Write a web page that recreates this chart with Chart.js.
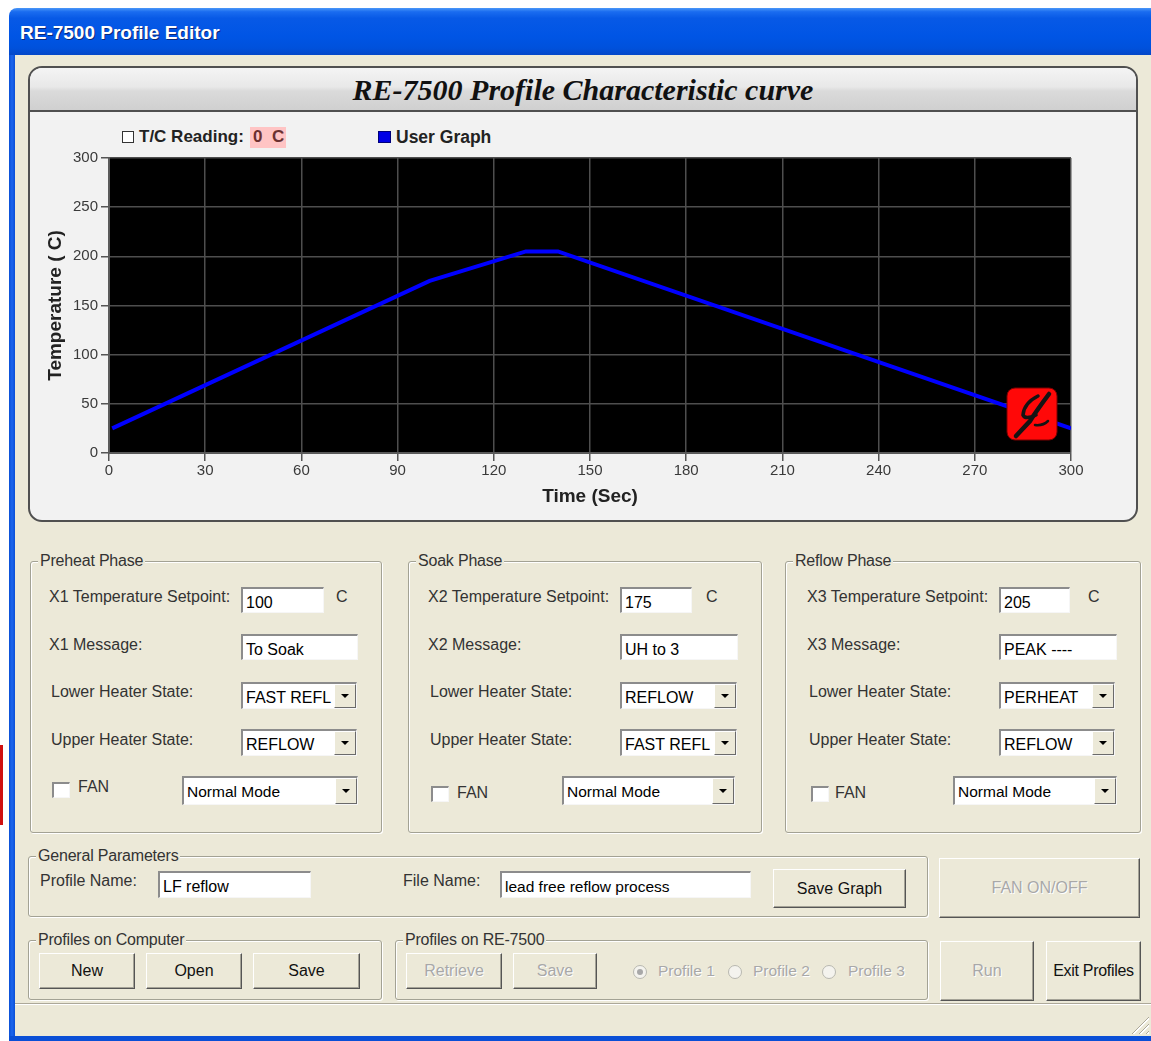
<!DOCTYPE html>
<html>
<head>
<meta charset="utf-8">
<title>RE-7500 Profile Editor</title>
<script src="https://cdn.jsdelivr.net/npm/chart.js@4.4.1/dist/chart.umd.min.js"></script>
<style>
  html, body { margin: 0; padding: 0; }
  body {
    width: 1151px; height: 1041px; position: relative; overflow: hidden;
    background: #fff; font-family: "Liberation Sans", Arial, sans-serif;
  }
  .abs { position: absolute; }
  #titlebar {
    left: 9px; top: 8px; width: 1142px; height: 47px; border-top-left-radius: 8px;
    background: linear-gradient(to bottom, #4a97f8 0%, #1a6cf0 8%, #0759e6 22%, #0055e5 60%, #0051dc 85%, #0447c8 100%);
  }
  #titletext {
    left: 20px; top: 22px; color: #fff; font-weight: bold; font-size: 19px;
    text-shadow: 1px 1px 0 #0b2a7a; white-space: nowrap;
  }
  #leftborder { left: 9px; top: 55px; width: 6px; height: 986px; background: linear-gradient(to right, #0a4fd6, #1c66ee, #0a4fd6); }
  #client { left: 15px; top: 55px; width: 1136px; height: 981px; background: #ece9d8; }
  #bottomborder { left: 9px; top: 1036px; width: 1142px; height: 5px; background: #0a4fd6; }

  #panel {
    left: 28px; top: 66px; width: 1106px; height: 452px; border: 2px solid #505050;
    border-radius: 14px; background: #f2f2f2; overflow: hidden;
  }
  #panelhead {
    left: 0; top: 0; width: 1106px; height: 42px; border-bottom: 2px solid #505050;
    background: linear-gradient(to bottom, #f4f4f4 0%, #e8e8e8 45%, #dadada 55%, #d0d0d0 100%);
    text-align: center; line-height: 44px;
    font-family: "Liberation Serif", "Times New Roman", serif; font-style: italic; font-weight: bold;
    font-size: 30px; color: #111;
  }
  .leg { font-weight: bold; font-size: 17px; color: #222; line-height: 20px; white-space: nowrap; }

  .lbl { position: absolute; font-size: 16px; color: #333; line-height: 18px; white-space: nowrap; }
  .grp {
    position: absolute; box-sizing: border-box; border: 1px solid #a3a294; border-radius: 3px;
    box-shadow: inset 1px 1px 0 #fff, 1px 1px 0 #fff;
  }
  .grp > span {
    position: absolute; left: 7px; top: -10px; background: #ece9d8; padding: 0 2px;
    font-size: 16px; color: #333; line-height: 18px; white-space: nowrap; letter-spacing: -0.2px;
  }
  .box {
    position: absolute; box-sizing: border-box; background: #fff;
    border-top: 2px solid #8c8c8c; border-left: 2px solid #8c8c8c;
    border-right: 1px solid #f6f6f6; border-bottom: 1px solid #f6f6f6;
    font-size: 16px; color: #000; padding: 5px 0 0 3px; line-height: 18px; white-space: nowrap; overflow: hidden;
  }
  .arrow {
    position: absolute; right: 0; top: 0; bottom: 0; width: 22px; box-sizing: border-box;
    background: #ece9d8; border: 1px solid; border-color: #fff #6a6a6a #6a6a6a #fff;
  }
  .arrow::after {
    content: ""; position: absolute; left: 6px; top: 50%; margin-top: -2px;
    border-left: 4px solid transparent; border-right: 4px solid transparent; border-top: 4px solid #000;
  }
  .chk {
    position: absolute; box-sizing: border-box; width: 18px; height: 16px; background: #fff;
    border-top: 2px solid #8c8c8c; border-left: 2px solid #8c8c8c;
    border-right: 1px solid #f6f6f6; border-bottom: 1px solid #f6f6f6;
  }
  .btn {
    position: absolute; box-sizing: border-box; background: #ece9d8;
    border: 1px solid; border-color: #fff #555 #555 #fff; box-shadow: inset -1px -1px 0 #a5a397;
    font-size: 16px; color: #111; display: flex; align-items: center; justify-content: center; white-space: nowrap;
  }
  .btn.dis { color: #a8a8a8; text-shadow: 1px 1px 0 #fff; }
  .radio {
    position: absolute; width: 12px; height: 12px; border-radius: 50%;
    border: 1px solid #b8b8b0; background: #f4f3ee;
  }
  .radio.on::after {
    content: ""; position: absolute; left: 3px; top: 3px; width: 6px; height: 6px; border-radius: 50%; background: #a8a8a8;
  }
  .dtext { color: #a8a8a8; text-shadow: 1px 1px 0 #fff; font-size: 15.5px; }
</style>
</head>
<body>

<div class="abs" id="titlebar"></div>
<div class="abs" id="titletext">RE-7500 Profile Editor</div>
<div class="abs" id="leftborder"></div>
<div class="abs" id="client"></div>
<div class="abs" id="bottomborder"></div>
<div class="abs" style="left:0;top:745px;width:3px;height:80px;background:#d01010;"></div>

<div class="abs" id="panel">
  <div class="abs" id="panelhead">RE-7500 Profile Characteristic curve</div>
</div>

<!-- legend -->
<div class="abs" style="left:122px;top:131px;width:10px;height:10px;border:1px solid #333;background:#fff;"></div>
<div class="abs leg" style="left:139px;top:127px;">T/C Reading:</div>
<div class="abs leg" style="left:250px;top:127px;width:36px;height:21px;background:#ffc4c4;color:#6b3030;padding-left:3px;box-sizing:border-box;">0&nbsp;&nbsp;C</div>
<div class="abs" style="left:378px;top:131px;width:11px;height:10px;border:1px solid #00007a;background:#0000e6;"></div>
<div class="abs leg" style="left:396px;top:127px;font-size:17.5px;">User Graph</div>

<canvas id="profileChart" class="abs" width="1090" height="374" style="left:30px;top:146px;width:1090px;height:374px;"></canvas>

<!-- Preheat -->
<div class="grp" style="left:30px;top:561px;width:352px;height:272px;"><span>Preheat Phase</span></div>
<div class="lbl" style="left:49px;top:588px;">X1 Temperature Setpoint:</div>
<div class="box" style="left:241px;top:587px;width:83px;height:26px;">100</div>
<div class="lbl" style="left:336px;top:588px;">C</div>
<div class="lbl" style="left:49px;top:636px;">X1 Message:</div>
<div class="box" style="left:241px;top:634px;width:117px;height:26px;">To Soak</div>
<div class="lbl" style="left:51px;top:683px;">Lower Heater State:</div>
<div class="box" style="left:241px;top:682px;width:116px;height:27px;">FAST REFL<div class="arrow"></div></div>
<div class="lbl" style="left:51px;top:731px;">Upper Heater State:</div>
<div class="box" style="left:241px;top:729px;width:116px;height:27px;">REFLOW<div class="arrow"></div></div>
<div class="chk" style="left:52px;top:782px;"></div>
<div class="lbl" style="left:78px;top:778px;">FAN</div>
<div class="box" style="left:182px;top:776px;width:176px;height:29px;font-size:15.5px;">Normal Mode<div class="arrow"></div></div>

<!-- Soak -->
<div class="grp" style="left:408px;top:561px;width:354px;height:272px;"><span>Soak Phase</span></div>
<div class="lbl" style="left:428px;top:588px;">X2 Temperature Setpoint:</div>
<div class="box" style="left:620px;top:587px;width:72px;height:26px;">175</div>
<div class="lbl" style="left:706px;top:588px;">C</div>
<div class="lbl" style="left:428px;top:636px;">X2 Message:</div>
<div class="box" style="left:620px;top:634px;width:118px;height:26px;">UH to 3</div>
<div class="lbl" style="left:430px;top:683px;">Lower Heater State:</div>
<div class="box" style="left:620px;top:682px;width:117px;height:27px;">REFLOW<div class="arrow"></div></div>
<div class="lbl" style="left:430px;top:731px;">Upper Heater State:</div>
<div class="box" style="left:620px;top:729px;width:117px;height:27px;">FAST REFL<div class="arrow"></div></div>
<div class="chk" style="left:431px;top:786px;"></div>
<div class="lbl" style="left:457px;top:784px;">FAN</div>
<div class="box" style="left:562px;top:776px;width:173px;height:29px;font-size:15.5px;">Normal Mode<div class="arrow"></div></div>

<!-- Reflow -->
<div class="grp" style="left:785px;top:561px;width:356px;height:272px;"><span>Reflow Phase</span></div>
<div class="lbl" style="left:807px;top:588px;">X3 Temperature Setpoint:</div>
<div class="box" style="left:999px;top:587px;width:71px;height:26px;">205</div>
<div class="lbl" style="left:1088px;top:588px;">C</div>
<div class="lbl" style="left:807px;top:636px;">X3 Message:</div>
<div class="box" style="left:999px;top:634px;width:118px;height:26px;">PEAK ----</div>
<div class="lbl" style="left:809px;top:683px;">Lower Heater State:</div>
<div class="box" style="left:999px;top:682px;width:116px;height:27px;">PERHEAT<div class="arrow"></div></div>
<div class="lbl" style="left:809px;top:731px;">Upper Heater State:</div>
<div class="box" style="left:999px;top:729px;width:116px;height:27px;">REFLOW<div class="arrow"></div></div>
<div class="chk" style="left:811px;top:786px;"></div>
<div class="lbl" style="left:835px;top:784px;">FAN</div>
<div class="box" style="left:953px;top:776px;width:164px;height:29px;font-size:15.5px;">Normal Mode<div class="arrow"></div></div>

<!-- General -->
<div class="grp" style="left:28px;top:856px;width:900px;height:61px;"><span>General Parameters</span></div>
<div class="lbl" style="left:40px;top:872px;">Profile Name:</div>
<div class="box" style="left:158px;top:871px;width:153px;height:27px;">LF reflow</div>
<div class="lbl" style="left:403px;top:872px;">File Name:</div>
<div class="box" style="left:500px;top:871px;width:251px;height:27px;font-size:15.5px;">lead free reflow process</div>
<div class="btn" style="left:773px;top:869px;width:133px;height:39px;">Save Graph</div>
<div class="btn dis" style="left:939px;top:858px;width:201px;height:60px;">FAN ON/OFF</div>

<!-- Profiles -->
<div class="grp" style="left:28px;top:940px;width:354px;height:60px;"><span>Profiles on Computer</span></div>
<div class="btn" style="left:39px;top:953px;width:96px;height:36px;">New</div>
<div class="btn" style="left:146px;top:953px;width:96px;height:36px;">Open</div>
<div class="btn" style="left:253px;top:953px;width:107px;height:36px;">Save</div>

<div class="grp" style="left:395px;top:940px;width:533px;height:60px;"><span>Profiles on RE-7500</span></div>
<div class="btn dis" style="left:406px;top:953px;width:96px;height:36px;">Retrieve</div>
<div class="btn dis" style="left:513px;top:953px;width:84px;height:36px;">Save</div>
<div class="radio on" style="left:633px;top:965px;"></div>
<div class="abs dtext" style="left:658px;top:962px;">Profile 1</div>
<div class="radio" style="left:728px;top:965px;"></div>
<div class="abs dtext" style="left:753px;top:962px;">Profile 2</div>
<div class="radio" style="left:822px;top:965px;"></div>
<div class="abs dtext" style="left:848px;top:962px;">Profile 3</div>

<div class="btn dis" style="left:940px;top:941px;width:94px;height:60px;">Run</div>
<div class="btn" style="left:1046px;top:941px;width:95px;height:60px;letter-spacing:-0.3px;">Exit Profiles</div>

<!-- status bar -->
<div class="abs" style="left:15px;top:1003px;width:1136px;height:1px;background:#aca899;"></div>
<div class="abs" style="left:15px;top:1004px;width:1136px;height:1px;background:#fff;"></div>
<div class="abs" style="left:1131px;top:1016px;width:18px;height:18px;
  background:repeating-linear-gradient(135deg, transparent 0 3px, #aca899 3px 4px, #fff 4px 5px);
  clip-path:polygon(100% 0, 100% 100%, 0 100%);"></div>

<script>
const timeSec = [1, 100, 130, 140, 300];
const tempC = [25, 175, 205, 205, 25];
const timeTicks = [0, 30, 60, 90, 120, 150, 180, 210, 240, 270, 300];
const tempTicks = [0, 50, 100, 150, 200, 250, 300];
const seriesName = 'User Graph';

Chart.defaults.font.family = '"Liberation Sans", Arial, sans-serif';

// black plot area like the original app
const plotBackground = {
    id: 'plotBackground',
    beforeDraw(chart) {
        const { ctx, chartArea: a } = chart;
        ctx.save();
        ctx.fillStyle = '#000';
        ctx.fillRect(a.left, a.top, a.width, a.height);
        ctx.restore();
    }
};

// the little red vendor badge in the lower right corner of the plot
const logoBadge = {
    id: 'logoBadge',
    afterDatasetsDraw(chart) {
        const { ctx, chartArea: a } = chart;
        const x = a.right - 64, y = a.bottom - 65;
        ctx.save();
        ctx.fillStyle = '#ff0808';
        ctx.strokeStyle = '#7a0000';
        ctx.lineWidth = 1;
        ctx.beginPath();
        ctx.roundRect(x, y, 50, 52, 8);
        ctx.fill();
        ctx.stroke();
        ctx.strokeStyle = '#141414';
        ctx.lineCap = 'round';
        ctx.lineWidth = 4.5;
        ctx.beginPath();
        ctx.moveTo(x + 42, y + 6);
        ctx.quadraticCurveTo(x + 30, y + 22, x + 23, y + 33);
        ctx.lineTo(x + 9, y + 48);
        ctx.stroke();
        ctx.lineWidth = 3.5;
        ctx.beginPath();
        ctx.moveTo(x + 31, y + 8);
        ctx.quadraticCurveTo(x + 17, y + 15, x + 16, y + 27);
        ctx.quadraticCurveTo(x + 18, y + 32, x + 29, y + 27);
        ctx.stroke();
        ctx.lineWidth = 2.5;
        ctx.beginPath();
        ctx.moveTo(x + 28, y + 37);
        ctx.quadraticCurveTo(x + 36, y + 38, x + 41, y + 33);
        ctx.stroke();
        ctx.restore();
    }
};

const ctx = document.getElementById('profileChart').getContext('2d');
new Chart(ctx, {
    type: 'line',
    data: {
        datasets: [{
            label: seriesName,
            data: timeSec.map((t, i) => ({ x: t, y: tempC[i] })),
            borderColor: '#0000ff',
            borderWidth: 4,
            pointRadius: 0,
            tension: 0,
            fill: false
        }]
    },
    options: {
        responsive: false,
        animation: false,
        devicePixelRatio: 1,
        layout: { padding: { top: 9, right: 49, bottom: 0, left: 0 } },
        plugins: {
            legend: { display: false },
            tooltip: { enabled: false }
        },
        scales: {
            x: {
                type: 'linear',
                min: 0,
                max: 300,
                afterBuildTicks: s => { s.ticks = timeTicks.map(v => ({ value: v })); },
                afterFit: s => { s.height = 67; },
                ticks: { color: '#3a3a3a', font: { size: 15 }, padding: 1, maxRotation: 0, autoSkip: false },
                grid: { color: '#4e4e4e', lineWidth: 1.5, tickColor: '#555', tickLength: 8 },
                border: { color: '#5a5a5a', width: 2 },
                title: {
                    display: true,
                    text: 'Time (Sec)',
                    color: '#222',
                    font: { size: 19, weight: 'bold' },
                    padding: { top: 0, bottom: 12 }
                }
            },
            y: {
                min: 0,
                max: 300,
                afterBuildTicks: s => { s.ticks = tempTicks.map(v => ({ value: v })); },
                afterFit: s => { s.width = 79; },
                ticks: { color: '#3a3a3a', font: { size: 15 }, padding: 3, autoSkip: false },
                grid: { color: '#4e4e4e', lineWidth: 1.5, tickColor: '#555', tickLength: 8 },
                border: { color: '#5a5a5a', width: 2 },
                title: {
                    display: true,
                    text: 'Temperature ( C)',
                    color: '#222',
                    font: { size: 19, weight: 'bold' },
                    padding: { top: 14, bottom: 0 }
                }
            }
        }
    },
    plugins: [plotBackground, logoBadge]
});
</script>
</body>
</html>
